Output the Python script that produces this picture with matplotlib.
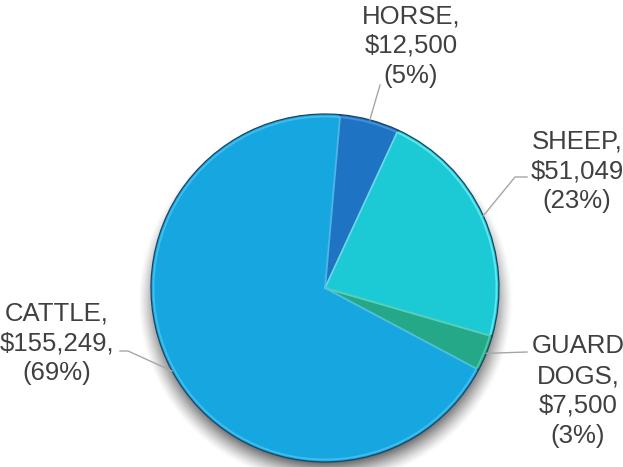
import matplotlib
matplotlib.use('Agg')
import matplotlib.pyplot as plt
import numpy as np

# Data
categories = ['HORSE', 'SHEEP', 'GUARD\nDOGS', 'CATTLE']
values = [12500, 51049, 7500, 155249]
value_labels = ['$12,500', '$51,049', '$7,500', '$155,249,']
pct_labels = ['(5%)', '(23%)', '(3%)', '(69%)']
colors = ['#1F73C3', '#1CCAD5', '#24A888', '#16A6E0']
highlights = ['#4A9BE6', '#6FF0F5', '#52D3AE', '#4CC4F0']

W, H = 623, 467
fig = plt.figure(figsize=(W / 100, H / 100), dpi=100)
ax = fig.add_axes([0, 0, 1, 1])

def Y(y):
    return H - y

cx, cy, r = 325, 288, 174
start = 85

# soft drop shadow, slightly larger than the pie and pushed down
xx, yy = np.meshgrid(np.arange(W), np.arange(H))
d = np.hypot((xx - cx) / 1.04, (yy - (cy + 12)) / 1.02)
alpha = 0.8 * np.clip((r + 6 - d) / 24, 0, 1) ** 1.3
shadow = np.zeros((H, W, 4))
shadow[..., :3] = 0.15
shadow[..., 3] = alpha
ax.imshow(shadow, extent=[0, W, 0, H], origin='upper', zorder=1, interpolation='bilinear')

wedges, _ = ax.pie(values, colors=colors, startangle=start, counterclock=False,
                   center=(cx, Y(cy)), radius=r, frame=True,
                   wedgeprops=dict(edgecolor='#1a4563', linewidth=0.9))
for w in wedges:
    w.set_zorder(2)

# bevel highlight
inner, _ = ax.pie(values, colors=['none'] * 4, startangle=start, counterclock=False,
                  center=(cx, Y(cy)), radius=r - 2.5, frame=True,
                  wedgeprops=dict(linewidth=1.3, fill=False))
for w, hc in zip(inner, highlights):
    w.set_edgecolor(hc)
    w.set_alpha(0.8)
    w.set_zorder(3)

ax.set_xlim(0, W)
ax.set_ylim(0, H)
ax.set_aspect('equal')
ax.axis('off')

# label layout (pixel positions of text blocks and leader elbows)
label_pos = [(411, 46), (577, 171), (578, 391), (57, 343)]
elbows = [[(380, 85)], [(515, 177), (527, 177)], [(527, 352)], [(128, 351), (120, 351)]]

tc = '#404040'
for i, w in enumerate(wedges):
    mid = np.deg2rad((w.theta1 + w.theta2) / 2)
    px = cx + r * np.cos(mid)
    py = cy - r * np.sin(mid)
    pts = [(px, py)] + elbows[i]
    ax.plot([p[0] for p in pts], [Y(p[1]) for p in pts], color='#a6a6a6', lw=1.0, zorder=4)
    txt = f'{categories[i]},\n{value_labels[i]}\n{pct_labels[i]}'
    ax.text(label_pos[i][0], Y(label_pos[i][1]), txt, ha='center', va='center',
            fontsize=18.5, color=tc, family='Liberation Sans', linespacing=1.3, zorder=5)

fig.savefig('out.png', dpi=100)
